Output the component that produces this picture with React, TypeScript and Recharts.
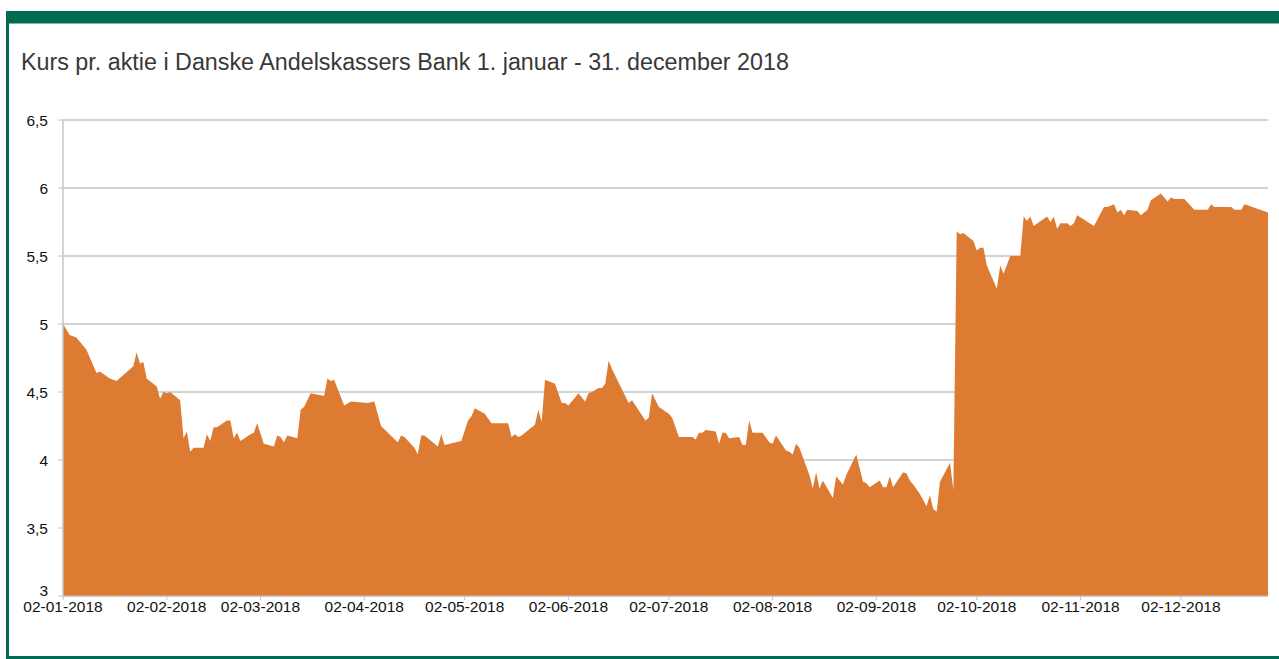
import React from "react";
import { AreaChart, Area, XAxis, YAxis, CartesianGrid } from "recharts";

// days after 2 Jan 2018, and the closing price on that day
const DAYS = [
  0, 2, 4, 7, 10, 11, 14, 16, 21, 22, 23, 24, 25, 28, 29, 30, 31, 32, 35, 36,
  37, 38, 39, 42, 43, 44, 45, 46, 49, 50, 51, 52, 53, 56, 57, 58, 60, 63, 64, 65,
  66, 67, 70, 71, 72, 74, 78, 79, 80, 81, 84, 86, 91, 93, 95, 100, 101, 102, 105, 106,
  107, 108, 112, 113, 114, 119, 121, 122, 123, 126, 128, 133, 134, 135, 136, 137, 141, 142, 143, 144,
  147, 149, 150, 151, 154, 156, 157, 158, 160, 161, 162, 163, 164, 169, 170, 174, 175, 176, 178, 181,
  182, 184, 188, 189, 190, 191, 192, 195, 196, 197, 198, 199, 202, 203, 204, 205, 206, 209, 211, 212,
  213, 216, 217, 218, 219, 220, 223, 224, 225, 226, 227, 230, 231, 232, 233, 234, 237, 239, 240, 241,
  244, 245, 246, 247, 248, 251, 252, 253, 254, 256, 258, 259, 260, 261, 262, 265, 266, 267, 268, 269,
  272, 273, 274, 275, 276, 279, 280, 281, 283, 286, 287, 288, 289, 290, 294, 295, 296, 297, 298, 300,
  301, 302, 303, 308, 311, 312, 314, 315, 316, 317, 318, 321, 322, 324, 325, 328, 330, 331, 332, 335,
  338, 342, 343, 344, 349, 350, 352, 353, 360,
];

const PRICE = [
  5.0, 4.92, 4.9, 4.81, 4.64, 4.65, 4.6, 4.58, 4.69, 4.79, 4.71, 4.72, 4.6, 4.54, 4.45, 4.5, 4.49, 4.5, 4.44, 4.16,
  4.21, 4.06, 4.09, 4.09, 4.19, 4.14, 4.24, 4.24, 4.29, 4.29, 4.16, 4.2, 4.14, 4.19, 4.2, 4.27, 4.12, 4.1, 4.18, 4.17,
  4.13, 4.18, 4.16, 4.37, 4.39, 4.49, 4.47, 4.6, 4.58, 4.59, 4.4, 4.43, 4.42, 4.43, 4.25, 4.13, 4.18, 4.17, 4.09, 4.04,
  4.18, 4.18, 4.1, 4.19, 4.11, 4.14, 4.29, 4.32, 4.38, 4.34, 4.27, 4.27, 4.17, 4.19, 4.17, 4.18, 4.26, 4.37, 4.28, 4.59,
  4.56, 4.42, 4.42, 4.4, 4.49, 4.43, 4.49, 4.5, 4.53, 4.53, 4.56, 4.73, 4.67, 4.42, 4.44, 4.29, 4.31, 4.49, 4.39, 4.34,
  4.31, 4.17, 4.17, 4.15, 4.2, 4.2, 4.22, 4.21, 4.12, 4.2, 4.2, 4.16, 4.17, 4.11, 4.11, 4.29, 4.2, 4.2, 4.13, 4.12,
  4.18, 4.07, 4.06, 4.04, 4.12, 4.09, 3.89, 3.79, 3.91, 3.79, 3.85, 3.72, 3.88, 3.85, 3.82, 3.89, 4.04, 3.84, 3.83, 3.8,
  3.85, 3.8, 3.8, 3.88, 3.8, 3.91, 3.9, 3.85, 3.82, 3.75, 3.66, 3.74, 3.64, 3.62, 3.84, 3.98, 3.78, 5.68, 5.66, 5.67,
  5.61, 5.54, 5.56, 5.56, 5.43, 5.26, 5.43, 5.37, 5.5, 5.5, 5.79, 5.76, 5.79, 5.72, 5.79, 5.75, 5.79, 5.7, 5.74, 5.74,
  5.72, 5.74, 5.8, 5.72, 5.86, 5.86, 5.88, 5.82, 5.84, 5.8, 5.84, 5.83, 5.8, 5.84, 5.91, 5.96, 5.9, 5.93, 5.92, 5.92,
  5.84, 5.84, 5.88, 5.86, 5.86, 5.84, 5.84, 5.88, 5.82,
];

const MONTH_TICKS = [0, 31, 59, 90, 120, 151, 181, 212, 243, 273, 304, 334];
const TICK_LABELS = [
  "02-01-2018", "02-02-2018", "02-03-2018", "02-04-2018", "02-05-2018", "02-06-2018",
  "02-07-2018", "02-08-2018", "02-09-2018", "02-10-2018", "02-11-2018", "02-12-2018",
];
const Y_TICKS = [3, 3.5, 4, 4.5, 5, 5.5, 6, 6.5];

const TITLE = "Kurs pr. aktie i Danske Andelskassers Bank 1. januar - 31. december 2018";

const GREEN = "#006a53";
const ORANGE = "#de7b33";
const GRID = "#c4c4c4";
const FONT = "'Liberation Sans', Arial, sans-serif";

const data = DAYS.map((day, i) => ({ day, price: PRICE[i] }));

const tickFont = { fontFamily: FONT, fontSize: 15.5, fill: "#111" };

// y labels: the lowest one sits a little above its gridline, as in Excel
function YTick(props: any) {
  const { x, y, payload } = props;
  const lift = payload.value === Y_TICKS[0] ? -6 : 0;
  return (
    <text x={x} y={y + lift} dy="0.355em" textAnchor="end" fontFamily={FONT} fontSize={15.5} fill="#111">
      {String(payload.value).replace(".", ",")}
    </text>
  );
}

export default function App() {
  return (
    <div style={{ position: "absolute", left: 0, top: 0, width: 1279, height: 659, background: "#fff", overflow: "hidden" }}>
      {/* frame */}
      <div style={{ position: "absolute", left: 6, top: 11, width: 1273, height: 12, background: GREEN }} />
      <div style={{ position: "absolute", left: 6, top: 23, width: 1273, height: 1, background: "#7fb3a6" }} />
      <div style={{ position: "absolute", left: 6, top: 11, width: 3, height: 648, background: GREEN }} />
      <div style={{ position: "absolute", left: 6, top: 656, width: 1273, height: 3, background: GREEN }} />

      <div
        style={{
          position: "absolute", left: 21, top: 48, fontFamily: FONT,
          fontSize: 23.3, color: "#383838", whiteSpace: "nowrap", lineHeight: "28px",
        }}
      >
        {TITLE}
      </div>

      <div style={{ position: "absolute", left: 0, top: 0 }}>
        <AreaChart width={1279} height={659} data={data} margin={{ top: 120, right: 11, bottom: 33, left: 3 }}>
          <CartesianGrid vertical={false} stroke={GRID} strokeWidth={1.3} />
          <XAxis
            type="number"
            dataKey="day"
            domain={[0, 360]}
            ticks={MONTH_TICKS}
            interval={0}
            tickFormatter={(v: number) => TICK_LABELS[MONTH_TICKS.indexOf(v)]}
            tick={tickFont}
            tickSize={4}
            tickMargin={1}
            height={30}
            stroke={GRID}
            axisLine={{ stroke: GRID }}
          />
          <YAxis
            type="number"
            domain={[3, 6.5]}
            ticks={Y_TICKS}
            interval={0}
            tick={<YTick />}
            tickSize={5}
            tickMargin={10}
            width={60}
            stroke={GRID}
            axisLine={{ stroke: GRID, strokeWidth: 1.5 }}
          />
          <Area
            type="linear"
            dataKey="price"
            stroke="none"
            fill={ORANGE}
            fillOpacity={1}
            isAnimationActive={false}
            dot={false}
            activeDot={false}
          />
        </AreaChart>
      </div>
    </div>
  );
}
